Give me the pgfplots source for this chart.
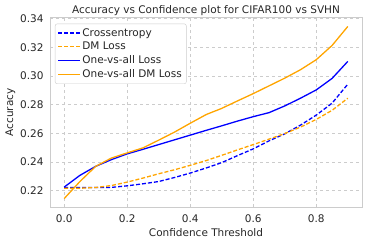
\documentclass[border=0pt]{standalone}
\usepackage{pgfplots}
\pgfplotsset{compat=1.18}
\usepackage{fontspec}
\setmainfont{DejaVu Sans}
\definecolor{txt}{HTML}{262626}
\definecolor{gridc}{HTML}{CCCCCC}
\definecolor{myorange}{RGB}{255,165,0}
\begin{document}
\begin{tikzpicture}
\begin{axis}[
  scale only axis, width=312pt, height=189pt,
  xmin=-0.045, xmax=0.945, ymin=0.2085, ymax=0.3405,
  xtick={0,0.2,0.4,0.6,0.8}, ytick={0.22,0.24,0.26,0.28,0.30,0.32,0.34},
  xticklabels={0.0,0.2,0.4,0.6,0.8},
  y tick label style={/pgf/number format/fixed,/pgf/number format/fixed zerofill,/pgf/number format/precision=2},
  /pgf/number format/assume math mode=true,
  tick style={draw=none},
  major tick length=0pt,
  ticklabel style={font=\fontsize{10.5}{12}\selectfont, text=txt},
  xticklabel style={yshift=-4pt},
  yticklabel style={xshift=-3pt},
  grid=major, major grid style={gridc, dashed, line width=0.7pt},
  axis line style={gridc, line width=1pt},
  xlabel={Confidence Threshold}, ylabel={Accuracy},
  label style={font=\fontsize{10.5}{12}\selectfont, text=txt},
  xlabel style={yshift=1pt}, ylabel style={yshift=-2pt},
  title={Accuracy vs Confidence plot for CIFAR100 vs SVHN},
  title style={font=\fontsize{10.5}{12}\selectfont, text=txt, yshift=-7pt},
  legend style={at={(0.016,0.97)}, anchor=north west, draw=gridc, rounded corners=2pt,
    font=\fontsize{10.5}{12}\selectfont, text=txt, row sep=0.5pt, inner sep=2.5pt},
  legend cell align=left,
  legend image code/.code={\draw[#1] (0cm,0cm) -- (0.75cm,0cm);},
]
\addplot[blue, line width=1.3pt, dash pattern=on 4pt off 2pt] coordinates {
(0,0.2221)(0.05,0.2221)(0.1,0.2221)(0.15,0.2222)(0.2,0.2233)(0.25,0.2247)(0.3,0.2263)(0.35,0.2291)(0.4,0.2322)(0.45,0.2357)(0.5,0.2395)(0.55,0.2444)(0.6,0.2491)(0.65,0.2547)(0.7,0.2596)(0.75,0.2657)(0.8,0.2727)(0.85,0.2810)(0.9,0.2943)};
\addlegendentry{Crossentropy}
\addplot[myorange, line width=1.3pt, dash pattern=on 4pt off 2pt] coordinates {
(0,0.2216)(0.05,0.2216)(0.1,0.2221)(0.15,0.2235)(0.2,0.2259)(0.25,0.2287)(0.3,0.2317)(0.35,0.2345)(0.4,0.2376)(0.45,0.2409)(0.5,0.2446)(0.55,0.2484)(0.6,0.2521)(0.65,0.2559)(0.7,0.2598)(0.75,0.2643)(0.8,0.2697)(0.85,0.2760)(0.9,0.2845)};
\addlegendentry{DM Loss}
\addplot[blue, line width=1.3pt] coordinates {
(0,0.2224)(0.05,0.2306)(0.1,0.2369)(0.15,0.2416)(0.2,0.2456)(0.25,0.2488)(0.3,0.2521)(0.35,0.2554)(0.4,0.2587)(0.45,0.2620)(0.5,0.2652)(0.55,0.2685)(0.6,0.2716)(0.65,0.2744)(0.7,0.2791)(0.75,0.2845)(0.8,0.2903)(0.85,0.2983)(0.9,0.3102)};
\addlegendentry{One-vs-all Loss}
\addplot[myorange, line width=1.3pt] coordinates {
(0,0.2144)(0.05,0.2263)(0.1,0.2369)(0.15,0.2427)(0.2,0.2463)(0.25,0.2498)(0.3,0.2552)(0.35,0.2608)(0.4,0.2670)(0.45,0.2730)(0.5,0.2774)(0.55,0.2826)(0.6,0.2877)(0.65,0.2931)(0.7,0.2985)(0.75,0.3044)(0.8,0.3114)(0.85,0.3213)(0.9,0.3346)};
\addlegendentry{One-vs-all DM Loss}
\end{axis}
\pgfresetboundingbox
\path ([shift={(-50pt,-38pt)}]current axis.south west) rectangle ([shift={(12pt,18pt)}]current axis.north east);
\end{tikzpicture}
\end{document}
